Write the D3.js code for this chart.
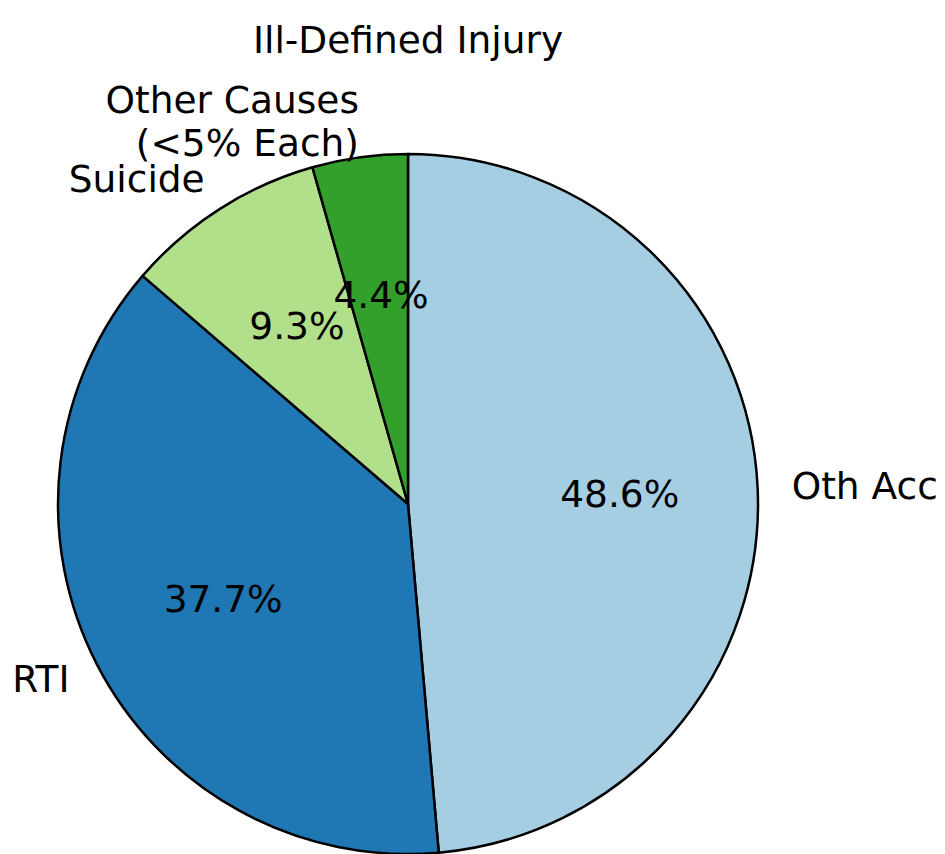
<!DOCTYPE html>
<html><head><meta charset="utf-8">
<script src="https://cdn.jsdelivr.net/npm/d3@7"></script>
<style>html,body{margin:0;padding:0;background:#fff;}svg{display:block;}</style>
</head><body>
<svg id="chart" width="945" height="854"></svg>
<script>
const title = "Ill-Defined Injury";
const categories = ["Oth Acc", "RTI", "Suicide", "Other Causes\n(<5% Each)"];
const values = [48.6, 37.7, 9.3, 4.4];
const colors = ["#a6cee3", "#1f78b4", "#b2df8a", "#33a02c"];

const W = 945, H = 854;
const cx = 408, cy = 504, R = 350;
const fontSize = 37.5;
const svg = d3.select("#chart");
const g = svg.append("g").attr("transform", `translate(${cx},${cy})`);

const data = categories.map((c, i) => ({label: c, value: values[i], color: colors[i]}));
const pie = d3.pie().value(d => d.value).sort(null).startAngle(0).endAngle(2 * Math.PI);
const arcs = pie(data);
const arc = d3.arc().innerRadius(0).outerRadius(R);

g.selectAll("path.slice").data(arcs).enter().append("path")
  .attr("class", "slice")
  .attr("d", arc)
  .attr("fill", d => d.data.color)
  .attr("stroke", "#000")
  .attr("stroke-width", 2.5)
  .attr("stroke-linejoin", "round");

const font = "DejaVu Sans, sans-serif";
// labels at 1.1 R, percentages at 0.6 R
arcs.forEach(a => {
  const mid = (a.startAngle + a.endAngle) / 2;
  const x = Math.sin(mid) * R * 1.1, y = -Math.cos(mid) * R * 1.1;
  const lines = a.data.label.split("\n");
  const lh = fontSize * 1.15;
  const left = x < 0;
  const t = g.append("text")
    .attr("font-family", font).attr("font-size", fontSize)
    .attr("text-anchor", left ? "end" : "start").attr("fill", "#000");
  lines.forEach((ln, i) => {
    t.append("tspan").attr("x", x + (left ? 4 : -1))
      .attr("y", y + (i - (lines.length - 1) / 2) * lh)
      .attr("dy", "0.32em").text(ln);
  });
  const px = Math.sin(mid) * R * 0.6, py = -Math.cos(mid) * R * 0.6;
  g.append("text").attr("font-family", font).attr("font-size", fontSize)
    .attr("text-anchor", "middle").attr("x", px + 2).attr("y", py).attr("dy", "0.32em")
    .attr("fill", "#000")
    .text(d3.format(".1f")(a.data.value) + "%");
});

svg.append("text").attr("font-family", font).attr("font-size", fontSize)
  .attr("text-anchor", "middle").attr("x", cx).attr("y", 40).attr("dy", "0.35em")
  .text(title);
</script>
</body></html>
